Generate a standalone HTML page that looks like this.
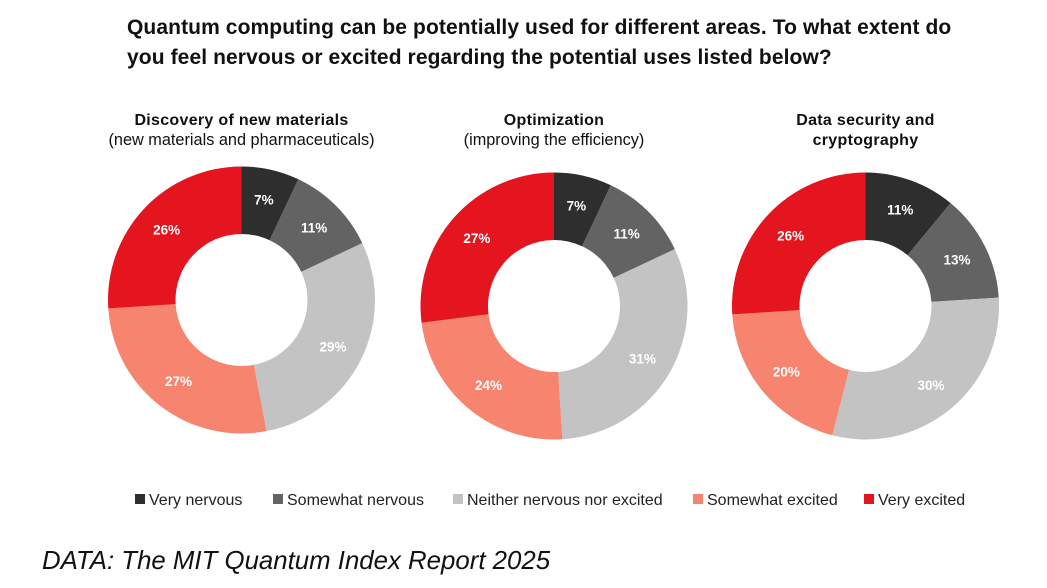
<!DOCTYPE html>
<html><head><meta charset="utf-8"><style>
body{margin:0;width:1047px;height:588px;background:#fff;font-family:"Liberation Sans",sans-serif;overflow:hidden;position:relative}
.t{position:absolute;left:127px;top:13px;font-size:21px;font-weight:bold;color:#111;line-height:30px;letter-spacing:0.1px}
.f{position:absolute;left:42px;top:547px;font-size:25.8px;font-style:italic;color:#111}
</style></head><body>
<div class="t">Quantum computing can be potentially used for different areas. To what extent do<br>you feel nervous or excited regarding the potential uses listed below?</div>
<svg id="c" width="1047" height="588" style="position:absolute;left:0;top:0"></svg>
<div class="f">DATA: The MIT Quantum Index Report 2025</div>
<script>
const categories=["Very nervous","Somewhat nervous","Neither nervous nor excited","Somewhat excited","Very excited"];
const colors=["#2e2e2e","#636363","#c3c3c3","#f7846f","#e4151f"];
const materialsValues=[7,11,29,27,26];
const optimizationValues=[7,11,31,24,27];
const securityValues=[11,13,30,20,26];
const titles=[["Discovery of new materials","(new materials and pharmaceuticals)"],["Optimization","(improving the efficiency)"],["Data security and","cryptography"]];
const series=[materialsValues,optimizationValues,securityValues];
const centers=[[241.5,300],[554,306],[865.5,306]];
const NS="http://www.w3.org/2000/svg";
const svg=document.getElementById('c');
function mk(t,a){const e=document.createElementNS(NS,t);for(const k in a)e.setAttribute(k,a[k]);svg.appendChild(e);return e;}
const R=133.5,r=66;
function pt(cx,cy,rad,frac){const a=frac*2*Math.PI-Math.PI/2;return [cx+rad*Math.cos(a),cy+rad*Math.sin(a)];}
series.forEach((vals,i)=>{
 const [cx,cy]=centers[i];
 const tot=vals.reduce((a,b)=>a+b,0);
 let acc=0;
 vals.forEach((v,j)=>{
  const s=acc/tot,e=(acc+v)/tot;acc+=v;
  const p1=pt(cx,cy,R,s),p2=pt(cx,cy,R,e),p3=pt(cx,cy,r,e),p4=pt(cx,cy,r,s);
  const lg=(e-s)>0.5?1:0;
  const p=mk('path',{d:`M${p1}A${R},${R} 0 ${lg} 1 ${p2}L${p3}A${r},${r} 0 ${lg} 0 ${p4}Z`,fill:colors[j]});
  
  
  const m=pt(cx,cy,(R+r)/2+3,(s+e)/2);
  const t=mk('text',{x:m[0],y:m[1]+5,'text-anchor':'middle','font-size':13.5,'font-weight':'bold',fill:'#fff'});
  t.textContent=v+'%';
  
  
 });
 titles[i].forEach((ln,k)=>{
  const b=(k==0||i==2);
  const t=mk('text',{x:cx,y:125+k*20,'text-anchor':'middle','font-size':b?16:16.3,fill:'#111','font-weight':b?'bold':'normal','letter-spacing':b?0.3:0});
  t.textContent=ln;
  
  
 });
});
const lx=[135,273,453,693,864];
categories.forEach((c,j)=>{
 const q=mk('rect',{x:lx[j],y:494,width:10,height:10,fill:colors[j]});
 
 
 const t=mk('text',{x:lx[j]+14,y:505,'font-size':16,fill:'#222'});
 t.textContent=c;
 
 
});
</script>
</body></html>
